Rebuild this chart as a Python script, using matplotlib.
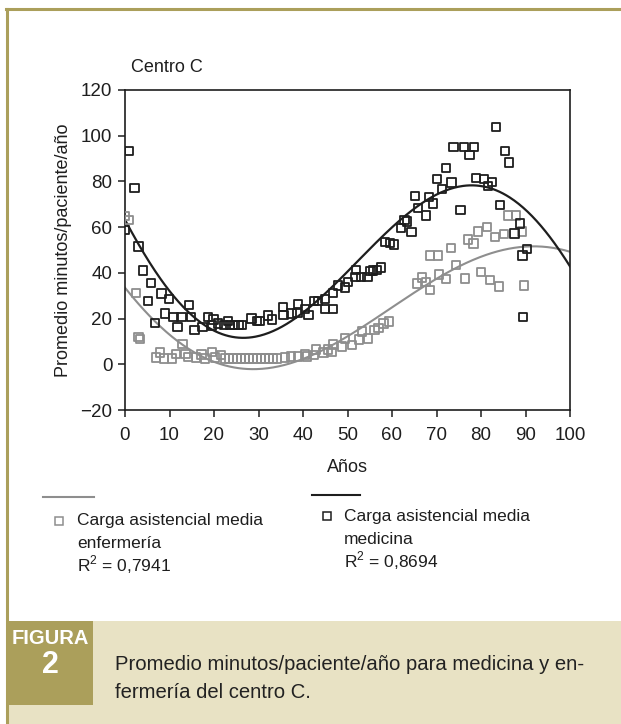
import numpy as np
import matplotlib
matplotlib.use("Agg")
import matplotlib.pyplot as plt
from matplotlib.lines import Line2D
from matplotlib.patches import Rectangle

# ---------------- data ----------------
med_age = [0, 0.9, 2.1, 3, 4, 5.2, 5.8, 6.7, 8.2, 9, 9.9, 10.9, 11.8, 12.7, 14.4, 14.8,
           15.6, 17.4, 18.6, 19.5, 19.9, 20.9, 22.2, 23.2, 23.6, 24.6, 25.5, 26.2, 28.4,
           29.6, 30.2, 32.2, 33.1, 35.5, 35.6, 37.4, 38.8, 38.9, 40.4, 41.2, 42.4, 43.4,
           44.9, 44.9, 46.7, 46.8, 47.9, 49.4, 50.1, 51.8, 51.9, 53.1, 54.5, 55.2, 55.8,
           56.7, 57.5, 58.5, 59.6, 60.4, 62, 62.8, 63.4, 64.4, 65.2, 65.9, 67.6, 68.3,
           69.2, 70.1, 71.2, 72.2, 73.4, 73.8, 75.4, 76.2, 77.4, 78.5, 78.9, 80.6, 81.6,
           82.5, 83.3, 84.2, 85.4, 86.3, 87.5, 88.7, 89.3, 89.4, 90.3]
med_val = [58.8, 93.4, 77, 51.5, 41, 27.8, 35.7, 18.1, 31, 22.2, 28.7, 20.7, 16.3, 20.7, 26, 20.7,
           14.9, 16.3, 20.7, 16.9, 19.6, 17.8, 17.2, 19, 17.2, 17.2, 17.2, 17.2, 20.1,
           19, 19, 21.3, 19.6, 25.1, 21.6, 22.2, 22.5, 26.3, 24.3, 21.6, 27.8, 27.8,
           28.7, 24.3, 24.3, 31.3, 34.5, 33.6, 36, 38.3, 41.2, 38.3, 38.3, 40.7, 41,
           41.2, 42.4, 53.5, 53, 52.4, 59.6, 63.1, 62.5, 57.8, 73.6, 68.4, 65.1, 73.1,
           70.4, 81.2, 76.6, 85.9, 79.5, 95, 67.5, 95, 91.5, 95, 81.5, 81.2, 78,
           79.8, 103.8, 69.8, 93.3, 88.3, 57.2, 61.6, 47.6, 20.6, 50.5]

enf_age = [0, 0.9, 2.4, 3.0, 3.4, 7.0, 7.9, 8.7, 10.5, 11.4, 12.9, 13.6, 14.1, 16.0, 17.2,
           18.0, 19.6, 20.2, 21.6, 22.4, 23.3, 24.2, 25.1, 26.0, 26.9, 27.8, 28.7, 29.6,
           30.5, 31.4, 32.3, 33.2, 34.1, 36, 37.3, 38.9, 40.4, 40.9, 42.4, 42.9, 44.6,
           45.6, 46.4, 46.8, 48.8, 49.4, 51, 52.6, 53.3, 54.6, 56.1, 57, 58.1, 59.3,
           65.6, 66.7, 67.6, 68.6, 68.6, 70.3, 70.6, 72.2, 73.2, 74.4, 76.4, 77.1, 78.3,
           79.4, 80, 81.3, 82, 83.1, 84, 85.2, 86, 87.8, 89.2, 89.7]
enf_val = [65, 63, 31.3, 12, 11, 2.9, 5.2, 2.6, 2.6, 4.6, 9.0, 4.6, 3.2, 2.9, 4.3,
           2.6, 5.5, 2.9, 4.0, 2.6, 2.6, 2.6, 2.6, 2.6, 2.6, 2.6, 2.6, 2.6,
           2.6, 2.6, 2.6, 2.6, 2.6, 2.9, 3.4, 3.4, 4.3, 3.4, 4.0, 6.4, 5.2,
           6.4, 5.5, 8.7, 7.8, 11.3, 8.4, 10.8, 14.3, 11.3, 14.9, 16, 17.8, 18.7,
           35.3, 37.9, 36.1, 32.6, 47.6, 47.6, 39.3, 37.3, 50.8, 43.4, 37.6, 54.6, 52.8,
           58.1, 40.5, 60.1, 37, 55.7, 34.1, 56.9, 65.1, 65.1, 58.1, 34.4]

# trend lines
med_trend_age = [0, 3, 7.5, 12.7, 20.2, 24.7, 31.4, 42.6, 56.9, 61.7, 69.1, 76.7, 81.2, 86.4, 91.6, 100]
med_trend_val = [63.5, 51.8, 40, 25.4, 13, 12, 15.2, 26, 54.7, 61.3, 73, 78.6, 79.2, 74.5, 61.3, 43.7]
enf_trend_age = [0, 5.2, 12.7, 20, 27.7, 31.4, 46.4, 61.7, 65.1, 74.3, 84.2, 93, 100]
enf_trend_val = [34.2, 21, 7.8, 2.0, -1.5, -1, 6.4, 26.9, 31.3, 44, 49.3, 50.3, 49.9]

x_ticks = [0, 10, 20, 30, 40, 50, 60, 70, 80, 90, 100]
y_ticks = [-20, 0, 20, 40, 60, 80, 100, 120]

title_txt = "Centro C"
xlabel_txt = "Años"
ylabel_txt = "Promedio minutos/paciente/año"
leg_enf = ["Carga asistencial media", "enfermería", "R$^2$ = 0,7941"]
leg_med = ["Carga asistencial media", "medicina", "R$^2$ = 0,8694"]
caption = ["Promedio minutos/paciente/año para medicina y en-", "fermería del centro C."]

# ---------------- style ----------------
W, H = 621, 724
plt.rcParams["font.family"] = ["Liberation Sans", "DejaVu Sans"]
plt.rcParams["mathtext.fontset"] = "custom"
plt.rcParams["mathtext.rm"] = "Liberation Sans"
BLACK = "#1e1e1e"
GRAY = "#8e8e8e"
OLIVE = "#ab9f5b"
BEIGE = "#e8e2c4"

fig = plt.figure(figsize=(W / 100, H / 100), dpi=100)


def fx(x):
    return x / W


def fy(y):
    return 1 - y / H


# frame
fig.add_artist(Rectangle((fx(8), fy(H)), fx(W) - fx(8), fy(621) - fy(H),
                         transform=fig.transFigure, facecolor=BEIGE, edgecolor="none"))
fig.add_artist(Rectangle((fx(8), fy(705)), fx(93) - fx(8), fy(621) - fy(705),
                         transform=fig.transFigure, facecolor=OLIVE, edgecolor="none"))
fig.add_artist(Line2D([fx(7), fx(7)], [fy(9), fy(H)], transform=fig.transFigure,
                      color=OLIVE, lw=2.2))
fig.add_artist(Line2D([fx(6), fx(W)], [fy(9), fy(9)], transform=fig.transFigure,
                      color=OLIVE, lw=2.2))

ax = fig.add_axes([fx(125), fy(410), fx(570) - fx(125), fy(90) - fy(410)])
ms = 36
ax.scatter(enf_age, enf_val, s=ms, marker="s", facecolors="none", edgecolors=GRAY,
           linewidths=1.3, zorder=3)
ax.scatter(med_age, med_val, s=ms, marker="s", facecolors="none", edgecolors=BLACK,
           linewidths=1.3, zorder=4)

xx = np.linspace(0, 100, 400)
pe = np.polyfit(enf_trend_age, enf_trend_val, 5)
pm = np.polyfit(med_trend_age, med_trend_val, 5)
ax.plot(xx, np.polyval(pe, xx), color=GRAY, lw=1.5, zorder=2)
ax.plot(xx, np.polyval(pm, xx), color=BLACK, lw=1.6, zorder=2)

ax.set_xlim(0, 100)
ax.set_ylim(-20, 120)
ax.set_xticks(x_ticks)
ax.set_yticks(y_ticks)
ax.set_xticklabels([str(t) for t in x_ticks])
ax.set_yticklabels(["\u221220" if t < 0 else str(t) for t in y_ticks])
ax.tick_params(direction="out", length=5, width=1.1, labelsize=13.5, color=BLACK,
               labelcolor=BLACK)
ax.tick_params(axis="x", pad=7)
ax.tick_params(axis="y", pad=4)
for s in ax.spines.values():
    s.set_linewidth(1.2)
    s.set_color(BLACK)
ax.set_xlabel(xlabel_txt, fontsize=13, color=BLACK, labelpad=11)
ax.set_ylabel(ylabel_txt, fontsize=13, color=BLACK, labelpad=6)

fig.text(fx(131), fy(67), title_txt, fontsize=13, color=BLACK, va="center", ha="left")

# legend
fig.add_artist(Line2D([fx(43), fx(94)], [fy(497), fy(497)], transform=fig.transFigure,
                      color=GRAY, lw=1.5))
fig.add_artist(Line2D([fx(312), fx(360)], [fy(495), fy(495)], transform=fig.transFigure,
                      color=BLACK, lw=1.5))
fig.add_artist(Line2D([fx(59)], [fy(521)], transform=fig.transFigure, marker="s",
                      ms=5.5, mfc="none", mec=GRAY, mew=1.1, ls="none"))
fig.add_artist(Line2D([fx(327)], [fy(516)], transform=fig.transFigure, marker="s",
                      ms=5.5, mfc="none", mec=BLACK, mew=1.1, ls="none"))
for i, t in enumerate(leg_enf):
    fig.text(fx(77), fy(521 + 22 * i), t, fontsize=12.5, color=BLACK, va="center", ha="left")
for i, t in enumerate(leg_med):
    fig.text(fx(344), fy(517 + 22 * i), t, fontsize=12.5, color=BLACK, va="center", ha="left")

# caption
fig.text(fx(50.5), fy(638), "FIGURA", fontsize=14.5, color="white", weight="bold",
         va="center", ha="center")
fig.text(fx(50.5), fy(665), "2", fontsize=22, color="white", weight="bold",
         va="center", ha="center")
for i, t in enumerate(caption):
    fig.text(fx(115), fy(665 + 27 * i), t, fontsize=14.6, color="#222222", va="center", ha="left")

fig.savefig("out.png", dpi=100, facecolor="white")
